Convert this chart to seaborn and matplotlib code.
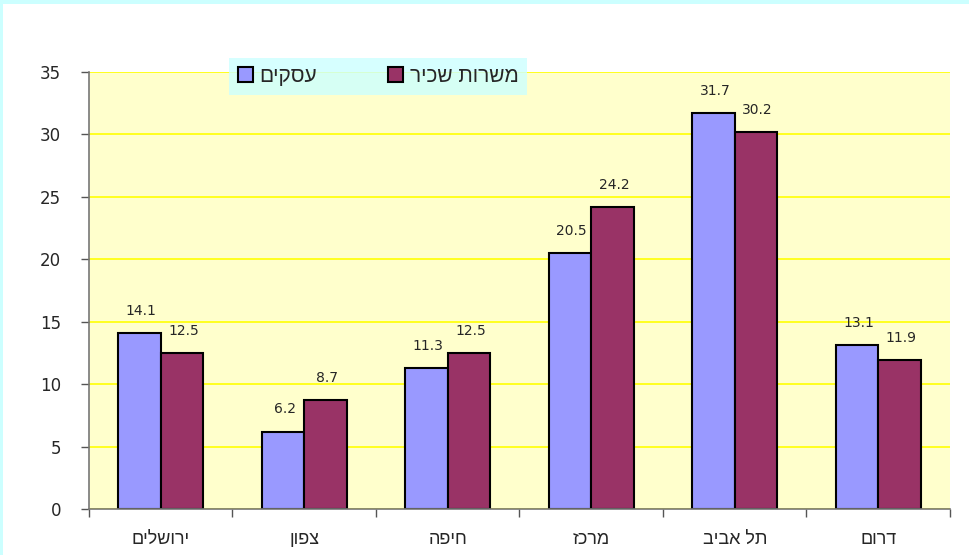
import matplotlib
matplotlib.use("Agg")
import matplotlib.pyplot as plt
from matplotlib.patches import Rectangle
import seaborn as sns
import pandas as pd
import numpy as np

# Data (logical Hebrew text; reversed for visual left-to-right drawing)
categories = ["ירושלים", "צפון", "חיפה", "מרכז", "תל אביב", "דרום"]
series_names = ["עסקים", "משרות שכיר"]
businesses = [14.1, 6.2, 11.3, 20.5, 31.7, 13.1]
employees = [12.5, 8.7, 12.5, 24.2, 30.2, 11.9]
yticks = [0, 5, 10, 15, 20, 25, 30, 35]

def vis(s):
    return s[::-1]

colors = ["#9999FF", "#993366"]

rows = []
for i, c in enumerate(categories):
    rows.append({"cat": vis(c), "series": vis(series_names[0]), "value": businesses[i]})
    rows.append({"cat": vis(c), "series": vis(series_names[1]), "value": employees[i]})
df = pd.DataFrame(rows)

sns.set_style("white")
plt.rcParams["font.family"] = ["Liberation Sans", "DejaVu Sans"]

fig = plt.figure(figsize=(9.7, 5.55), dpi=100)
fig.patch.set_facecolor("white")
ax = fig.add_axes([89/970, 1-509/555, (950-89)/970, (509-72)/555])
ax.set_facecolor("#FFFFCC")

sns.barplot(data=df, x="cat", y="value", hue="series",
            order=[vis(c) for c in categories],
            hue_order=[vis(s) for s in series_names],
            palette=colors, width=0.59, edgecolor="black", linewidth=1.5,
            saturation=1, ax=ax, legend=True)

ax.set_ylim(0, 35)
ax.set_xlim(-0.5, len(categories) - 0.5)
ax.set_yticks(yticks)
ax.set_yticklabels([str(t) for t in yticks], fontsize=12,
                   family=["DejaVu Sans"])
ax.yaxis.grid(True, color="#FFFF00", linewidth=1.2)
ax.set_axisbelow(True)

# x ticks at category boundaries, labels at centers
ax.set_xticks(np.arange(-0.5, len(categories), 1.0))
ax.set_xticklabels([])
ax.set_xticks(np.arange(len(categories)), minor=True)
ax.set_xticklabels([vis(c) for c in categories], minor=True, fontsize=13)
ax.tick_params(axis="x", which="major", direction="out", length=6, width=1, color="#555555", bottom=True)
ax.tick_params(axis="x", which="minor", length=0, pad=16)
ax.tick_params(axis="y", direction="out", length=6, width=1, color="#555555", left=True, pad=14)

for side in ["top", "right"]:
    ax.spines[side].set_visible(False)
for side in ["left", "bottom"]:
    ax.spines[side].set_color("#777777")
    ax.spines[side].set_linewidth(1.2)

ax.set_xlabel("")
ax.set_ylabel("")

# value labels
for cont in ax.containers:
    for bar in cont:
        h = bar.get_height()
        ax.annotate(f"{h:.1f}", (bar.get_x() + bar.get_width() / 2 + 0.01, h),
                    xytext=(0, 16), textcoords="offset points",
                    ha="center", va="center", fontsize=10,
                    family=["DejaVu Sans"])

# legend
handles, labels = ax.get_legend_handles_labels()
ax.get_legend().remove()
leg = fig.legend(handles, labels, ncol=2, loc="center",
                 bbox_to_anchor=(378/970, 1-76.5/555),
                 frameon=True, fancybox=False, fontsize=15,
                 handlelength=0.75, handleheight=0.75, handletextpad=0.3,
                 columnspacing=3.4, borderpad=0.42, borderaxespad=0)
leg.get_frame().set_facecolor("#CCFFFF")
leg.get_frame().set_edgecolor("#CCFFFF")
leg.get_frame().set_linewidth(0)
for p in leg.get_patches():
    p.set_edgecolor("black")
    p.set_linewidth(1.5)

# cyan border on top and left
fig.add_artist(Rectangle((0, 1-4/555), 1, 4/555, transform=fig.transFigure,
                         facecolor="#CCFFFF", edgecolor="none"))
fig.add_artist(Rectangle((0, 0), 3/970, 1, transform=fig.transFigure,
                         facecolor="#CCFFFF", edgecolor="none"))

fig.savefig("out.png", dpi=100)
